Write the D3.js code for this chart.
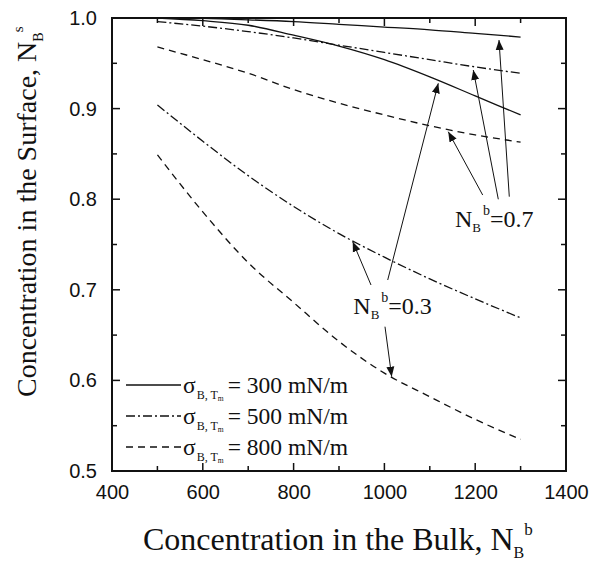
<!DOCTYPE html>
<html><head><meta charset="utf-8">
<script src="https://cdn.jsdelivr.net/npm/d3@7"></script>
<style>
body{margin:0;background:#fff;}
svg{display:block;}
</style></head>
<body>
<svg id="c" width="593" height="562"></svg>
<script>
// ---- data ----
const bulkConc = [500, 600, 700, 800, 900, 1000, 1100, 1200, 1300];
const s300_b07 = [1.000, 0.9995, 0.998, 0.996, 0.993, 0.990, 0.987, 0.983, 0.979];
const s500_b07 = [0.996, 0.991, 0.985, 0.978, 0.970, 0.962, 0.954, 0.946, 0.939];
const s800_b07 = [0.968, 0.954, 0.939, 0.921, 0.906, 0.893, 0.881, 0.871, 0.863];
const s300_b03 = [1.000, 0.997, 0.992, 0.981, 0.969, 0.954, 0.935, 0.914, 0.893];
const s500_b03 = [0.904, 0.864, 0.826, 0.792, 0.762, 0.736, 0.712, 0.690, 0.669];
const s800_b03 = [0.849, 0.786, 0.730, 0.686, 0.643, 0.608, 0.582, 0.557, 0.535];
const xTicks = [400, 600, 800, 1000, 1200, 1400];
const yTicks = [0.5, 0.6, 0.7, 0.8, 0.9, 1.0];
const legendValues = ["300", "500", "800"];
// annotation: label anchor, arrow tails and arrow heads in data units
const ann07 = {label:"0.7", at:[1155.5, 0.769],
  tails:[[1216.5,0.8046],[1250.9,0.7999],[1275.1,0.8028]],
  heads:[[1140.7,0.8745],[1195.8,0.9426],[1252.4,0.9757]]};
const ann03 = {label:"0.3", at:[931.5, 0.6733],
  tails:[[970.5,0.7053],[1007.3,0.7108],[1001.3,0.6593]],
  heads:[[930.2,0.7531],[1118.7,0.9279],[1016.1,0.6041]]};

// ---- layout ----
const svg = d3.select("#c");
const L = 112, R = 566, T = 18, B = 471;
const x = d3.scaleLinear().domain([400, 1400]).range([L, R]);
const y = d3.scaleLinear().domain([0.5, 1.0]).range([B, T]);
const styles = {
  "300": {dash: null},
  "500": {dash: "9,3,2,3"},
  "800": {dash: "7,5"}
};
const series = [
  {k:"300", v:s300_b07},{k:"500", v:s500_b07},{k:"800", v:s800_b07},
  {k:"300", v:s300_b03},{k:"500", v:s500_b03},{k:"800", v:s800_b03}
];

const line = d3.line().x((d,i)=>x(bulkConc[i])).y(d=>y(d)).curve(d3.curveMonotoneX);
series.forEach(s=>{
  svg.append("path").datum(s.v).attr("d", line)
    .attr("fill","none").attr("stroke","#111").attr("stroke-width",1.3)
    .attr("stroke-dasharray", styles[s.k].dash);
});

// ---- axes ----
const tickFont = "'Liberation Sans', Arial, sans-serif";
const xMinor = d3.range(400, 1401, 100);
const yMinor = d3.range(0.5, 1.0001, 0.05);
const gx = svg.append("g").attr("transform",`translate(0,${B})`)
  .call(d3.axisBottom(x).tickValues(xTicks).tickSize(0).tickPadding(14).tickFormat(d3.format("d")));
const gy = svg.append("g").attr("transform",`translate(${L},0)`)
  .call(d3.axisLeft(y).tickValues(yTicks).tickSize(0).tickPadding(15).tickFormat(d3.format(".1f")));
[gx, gy].forEach(g=>{
  g.select(".domain").remove();
  g.selectAll("text").attr("font-family", tickFont).attr("font-size", 20).attr("fill","#111");
});
gx.selectAll("text").attr("dy","0.71em");
// ticks inside on all four sides
const tk = svg.append("g").attr("stroke","#111").attr("stroke-width",1.5);
xMinor.forEach((v,i)=>{
  const len = (Math.round(v) % 200 === 0) ? 8 : 5;
  tk.append("line").attr("x1",x(v)).attr("x2",x(v)).attr("y1",B).attr("y2",B-len);
  tk.append("line").attr("x1",x(v)).attr("x2",x(v)).attr("y1",T).attr("y2",T+len);
});
yMinor.forEach((v,i)=>{
  const len = (i % 2 === 0) ? 8 : 5;
  tk.append("line").attr("y1",y(v)).attr("y2",y(v)).attr("x1",L).attr("x2",L+len);
  tk.append("line").attr("y1",y(v)).attr("y2",y(v)).attr("x1",R).attr("x2",R-len);
});
svg.append("rect").attr("x",L).attr("y",T).attr("width",R-L).attr("height",B-T)
  .attr("fill","none").attr("stroke","#111").attr("stroke-width",2);

// ---- titles ----
const serif = "'Liberation Serif', 'Times New Roman', serif";
const xt = svg.append("text").attr("x",143).attr("y",550)
  .attr("font-family",serif).attr("font-size",32).attr("fill","#111");
xt.append("tspan").text("Concentration in the Bulk, N");
xt.append("tspan").attr("font-size",16).attr("dy",8).text("B");
xt.append("tspan").attr("font-size",17).attr("dy",-23).text("b");

const yt = svg.append("text").attr("transform","translate(36,397) rotate(-90)")
  .attr("font-family",serif).attr("font-size",28).attr("fill","#111");
yt.append("tspan").text("Concentration in the Surface, N");
yt.append("tspan").attr("font-size",14).attr("dy",7).text("B");
yt.append("tspan").attr("font-size",15).attr("dy",-20).text("s");

// ---- legend ----
const lg = svg.append("g");
legendValues.forEach((k,i)=>{
  const yy = 385 + i*31;
  lg.append("line").attr("x1",126).attr("x2",181).attr("y1",yy).attr("y2",yy)
    .attr("stroke","#111").attr("stroke-width",1.3).attr("stroke-dasharray", styles[k].dash);
  const t = lg.append("text").attr("x",183).attr("y",yy+8)
    .attr("font-family",serif).attr("font-size",23.5).attr("fill","#111");
  t.append("tspan").text("σ");
  t.append("tspan").attr("font-size",12).attr("dy",6).attr("dx",1).text("B, T");
  t.append("tspan").attr("font-size",7.5).attr("dy",2).text("m");
  t.append("tspan").attr("font-size",23.5).attr("dy",-8).attr("dx",4).text("= " + k + " mN/m");
});

// ---- annotations ----
const defs = svg.append("defs");
defs.append("marker").attr("id","ah").attr("viewBox","0 0 10 10").attr("refX",10).attr("refY",5)
  .attr("markerWidth",10).attr("markerHeight",10).attr("markerUnits","userSpaceOnUse")
  .attr("orient","auto").append("path").attr("d","M0,1 L10,5 L0,9 Z").attr("fill","#111");
[ann07, ann03].forEach(a=>{
  a.tails.forEach((tl,i)=>{
    const hd = a.heads[i];
    svg.append("line").attr("x1",x(tl[0])).attr("y1",y(tl[1])).attr("x2",x(hd[0])).attr("y2",y(hd[1]))
      .attr("stroke","#111").attr("stroke-width",1).attr("marker-end","url(#ah)");
  });
  const t = svg.append("text").attr("x",x(a.at[0])).attr("y",y(a.at[1]))
    .attr("font-family",serif).attr("font-size",24).attr("fill","#111");
  t.append("tspan").text("N");
  t.append("tspan").attr("font-size",13).attr("dy",5).text("B");
  t.append("tspan").attr("font-size",14).attr("dy",-17).attr("dx",2).text("b");
  t.append("tspan").attr("font-size",24).attr("dy",12).text("=" + a.label);
});
</script>
</body></html>
